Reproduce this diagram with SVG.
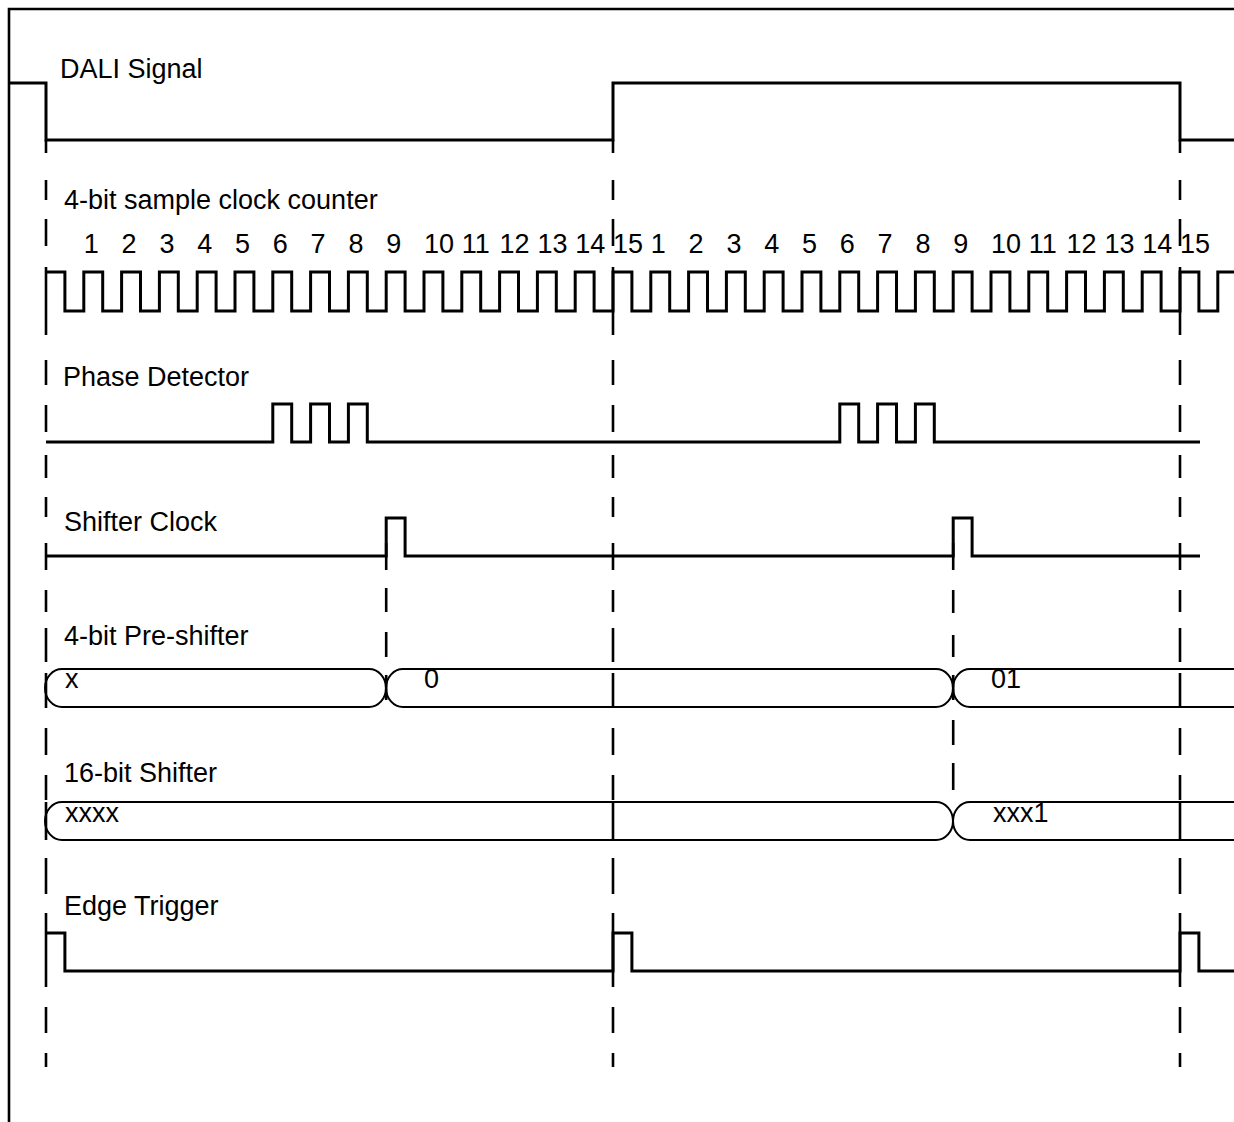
<svg xmlns="http://www.w3.org/2000/svg" width="1234" height="1122" viewBox="0 0 1234 1122">
<style>
  .sig{fill:none;stroke:#000;stroke-width:3;stroke-linejoin:miter;stroke-linecap:butt}
  .bub{fill:none;stroke:#000;stroke-width:2}
  .dash{fill:none;stroke:#000;stroke-width:2.6}
  .frame{fill:none;stroke:#000;stroke-width:2.6}
  text{font-family:"Liberation Sans",Arial,Helvetica,sans-serif;font-size:27px;fill:#000}
</style>
<defs>
  <path id="vdash" d="M0,140V153M0,180V200M0,219V246M0,267V335M0,360V385M0,405V432M0,455V478M0,497V517M0,543V570M0,590V612M0,628V662M0,673V708M0,728V755M0,775V800M0,802V840M0,858V894M0,913V987M0,1007V1033M0,1053V1067"/>
</defs>
<rect width="1234" height="1122" fill="#fff"/>
<path class="frame" d="M9,1122V9H1234"/>

<g id="connectors">
  <use href="#vdash" x="46" class="dash"/>
  <use href="#vdash" x="613" class="dash"/>
  <use href="#vdash" x="1180" class="dash"/>
  <path class="dash" d="M386.2,543V570M386.2,588V612M386.2,632V657M386.2,675V700"/>
  <path class="dash" d="M953.2,543V570M953.2,590V613M953.2,635V657M953.2,675V700M953.2,720V745M953.2,763V790"/>
</g>

<g id="dali-signal">
  <text x="60" y="78">DALI Signal</text>
  <path class="sig" d="M9,83H46V140H613V83H1180V140H1234"/>
</g>

<g id="sample-clock">
  <text x="64" y="209">4-bit sample clock counter</text>
  <g id="clock-counts">
    <text x="83.8" y="253">1</text>
    <text x="121.6" y="253">2</text>
    <text x="159.4" y="253">3</text>
    <text x="197.2" y="253">4</text>
    <text x="235" y="253">5</text>
    <text x="272.8" y="253">6</text>
    <text x="310.6" y="253">7</text>
    <text x="348.4" y="253">8</text>
    <text x="386.2" y="253">9</text>
    <text x="424" y="253">10</text>
    <text x="461.8" y="253">11</text>
    <text x="499.6" y="253">12</text>
    <text x="537.4" y="253">13</text>
    <text x="575.2" y="253">14</text>
    <text x="613" y="253">15</text>
    <text x="650.8" y="253">1</text>
    <text x="688.6" y="253">2</text>
    <text x="726.4" y="253">3</text>
    <text x="764.2" y="253">4</text>
    <text x="802" y="253">5</text>
    <text x="839.8" y="253">6</text>
    <text x="877.6" y="253">7</text>
    <text x="915.4" y="253">8</text>
    <text x="953.2" y="253">9</text>
    <text x="991" y="253">10</text>
    <text x="1028.8" y="253">11</text>
    <text x="1066.6" y="253">12</text>
    <text x="1104.4" y="253">13</text>
    <text x="1142.2" y="253">14</text>
    <text x="1180" y="253">15</text>
  </g>
  <path class="sig" d="M46,272H64.9V311H83.8V272H102.7V311H121.6V272H140.5V311H159.4V272H178.3V311H197.2V272H216.1V311H235V272H253.9V311H272.8V272H291.7V311H310.6V272H329.5V311H348.4V272H367.3V311H386.2V272H405.1V311H424V272H442.9V311H461.8V272H480.7V311H499.6V272H518.5V311H537.4V272H556.3V311H575.2V272H594.1V311H613V272H631.9V311H650.8V272H669.7V311H688.6V272H707.5V311H726.4V272H745.3V311H764.2V272H783.1V311H802V272H820.9V311H839.8V272H858.7V311H877.6V272H896.5V311H915.4V272H934.3V311H953.2V272H972.1V311H991V272H1009.9V311H1028.8V272H1047.7V311H1066.6V272H1085.5V311H1104.4V272H1123.3V311H1142.2V272H1161.1V311H1180V272H1198.9V311H1217.8V272H1234"/>
</g>

<g id="phase-detector">
  <text x="63" y="386">Phase Detector</text>
  <path class="sig" d="M46,442H272.8V404H291.7V442H310.6V404H329.5V442H348.4V404H367.3V442H839.8V404H858.7V442H877.6V404H896.5V442H915.4V404H934.3V442H1200"/>
</g>

<g id="shifter-clock">
  <text x="64" y="531">Shifter Clock</text>
  <path class="sig" d="M46,556H386.2V518H405.1V556H953.2V518H972.1V556H1200"/>
</g>

<g id="pre-shifter">
  <text x="64" y="645">4-bit Pre-shifter</text>
  <path class="bub" d="M62,669H369A17,19 0 0 1 369,707H62A17,19 0 0 1 62,669Z"/>
  <path class="bub" d="M403,669H936A17,19 0 0 1 936,707H403A17,19 0 0 1 403,669Z"/>
  <path class="bub" d="M1234,669H970A17,19 0 0 0 970,707H1234"/>
  <text x="65" y="688">x</text>
  <text x="424" y="688">0</text>
  <text x="991" y="688">01</text>
</g>

<g id="shifter-16bit">
  <text x="64" y="782">16-bit Shifter</text>
  <path class="bub" d="M62,802H936A17,19 0 0 1 936,840H62A17,19 0 0 1 62,802Z"/>
  <path class="bub" d="M1234,802H970A17,19 0 0 0 970,840H1234"/>
  <text x="65" y="822">xxxx</text>
  <text x="993" y="822">xxx1</text>
</g>

<g id="edge-trigger">
  <text x="64" y="915">Edge Trigger</text>
  <path class="sig" d="M46,933H64.9V971H613V933H631.9V971H1180V933H1198.9V971H1234"/>
</g>
</svg>
